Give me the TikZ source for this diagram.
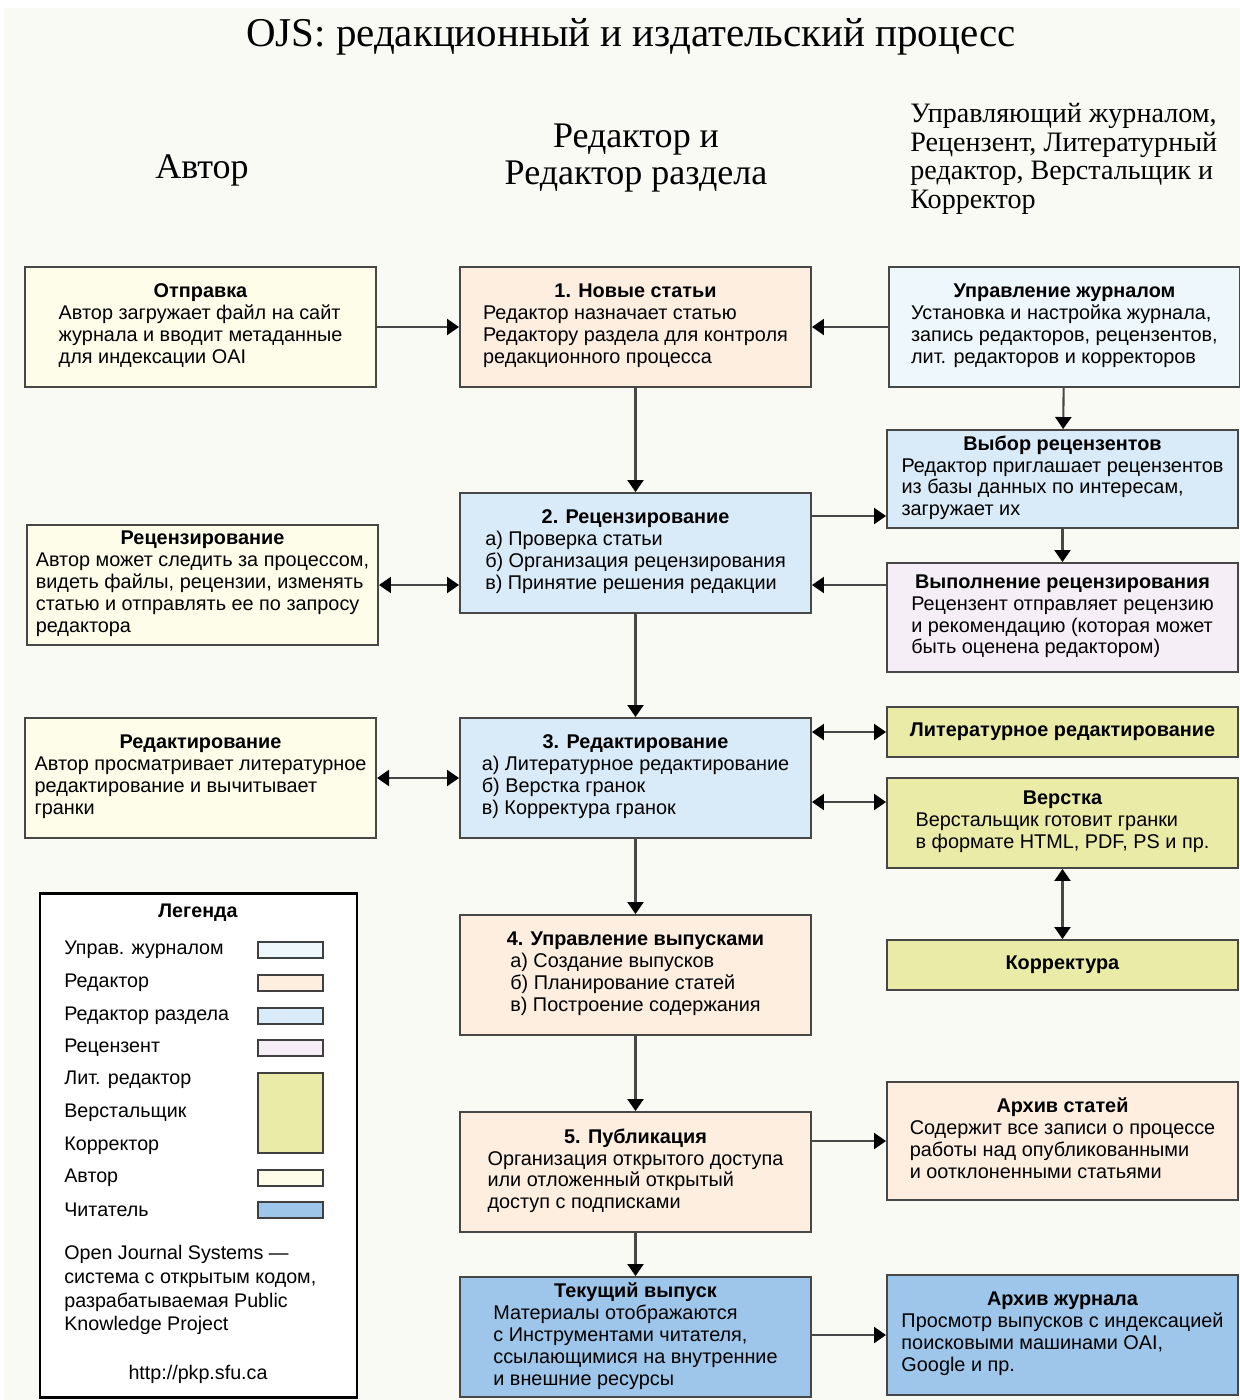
\documentclass[tikz,border=0pt]{standalone}
\usepackage{fontspec}
\setmainfont{Liberation Serif}
\setsansfont{Liberation Sans}
\usepackage{tikz}
\usetikzlibrary{arrows.meta,positioning}
\definecolor{fon}{HTML}{F9FAF4}
\definecolor{avtorc}{HTML}{FDFDEA}
\definecolor{redc}{HTML}{FDEEDF}
\definecolor{upravc}{HTML}{EEF7FC}
\definecolor{sekc}{HTML}{D9EBF8}
\definecolor{recc}{HTML}{F6EEF7}
\definecolor{litc}{HTML}{EBEBA8}
\definecolor{chitc}{HTML}{9DC6EA}
\newcommand{\kartochka}[2]{\textbf{#1}\\\begin{tabular}[t]{@{}l@{}}#2\end{tabular}}
\tikzset{
  blok/.style={draw=black!72,line width=1.1pt,inner sep=2pt,align=center,
               font=\sffamily\fontsize{11.3}{12.5}\selectfont,
               minimum width=70.2mm,minimum height=24mm},
  avtorblok/.style={blok,fill=avtorc},
  redblok/.style={blok,fill=redc},
  upravblok/.style={blok,fill=upravc},
  sekblok/.style={blok,fill=sekc},
  recblok/.style={blok,fill=recc},
  litblok/.style={blok,fill=litc},
  chitblok/.style={blok,fill=chitc},
  strelka/.style={draw=black!72,line width=1.2pt,-{Triangle[length=2.4mm,width=3.2mm,black]}},
  dvustrelka/.style={draw=black!72,line width=1.2pt,
                     {Triangle[length=2.4mm,width=3.2mm,black]}-{Triangle[length=2.4mm,width=3.2mm,black]}},
  zag/.style={font=\fontsize{23.3}{28}\selectfont},
  kol/.style={font=\fontsize{20.5}{21}\selectfont,align=center},
  legtekst/.style={font=\sffamily\fontsize{11.2}{13.6}\selectfont,anchor=west,inner sep=0pt},
  obrazec/.style={draw=black!75,line width=0.8pt,minimum width=13mm,minimum height=3.2mm,inner sep=0pt},
}

\begin{document}
\begin{tikzpicture}[x=0.2mm,y=-0.2mm]
  \useasboundingbox (0,0) rectangle (1240,1400);
  \fill[fon] (4,8) rectangle (1240,1400);

  % zagolovki
  \node[zag] (t) at (631,37) {OJS: редакционный и издательский процесс};
  \node[kol] (h1) at (202,170) {Автор};
  \node[kol] (h2) at (636,158) {Редактор и\\Редактор раздела};
  \node[kol,font=\fontsize{16}{16.2}\selectfont,align=left,anchor=west,inner sep=0pt] (h3) at (910,159)
     {Управляющий журналом,\\Рецензент, Литературный\\редактор, Верстальщик и\\Корректор};

  % centralnaja kolonka
  \node[redblok] (e1) at (635.5,327) {\kartochka{1. Новые статьи}{Редактор назначает статью\\Редактору раздела для контроля\\редакционного процесса}};
  \node[sekblok] (e2) at (635.5,553) {\kartochka{2. Рецензирование}{а) Проверка статьи\\б) Организация рецензирования\\в) Принятие решения редакции}};
  \node[sekblok] (e3) at (635.5,778) {\kartochka{3. Редактирование}{а) Литературное редактирование\\б) Верстка гранок\\в) Корректура гранок}};
  \node[redblok] (e4) at (635.5,975) {\kartochka{4. Управление выпусками}{а) Создание выпусков\\б) Планирование статей\\в) Построение содержания}};
  \node[redblok] (e5) at (635.5,1172) {\kartochka{5. Публикация}{Организация открытого доступа\\или отложенный открытый\\доступ с подписками}};
  \node[chitblok] (e6) at (635.5,1337) {\kartochka{Текущий выпуск}{Материалы отображаются\\с Инструментами читателя,\\ссылающимися на внутренние\\и внешние ресурсы}};

  % avtor
  \node[avtorblok,left=16.4mm of e1] (a1) {\kartochka{Отправка}{Автор загружает файл на сайт\\журнала и вводит метаданные\\для индексации OAI}};
  \node[avtorblok] (a2) at (202.5,585) {\kartochka{Рецензирование}{Автор может следить за процессом,\\видеть файлы, рецензии, изменять\\статью и отправлять ее по запросу\\редактора}};
  \node[avtorblok,left=16.4mm of e3] (a3) {\kartochka{Редактирование}{Автор просматривает литературное\\редактирование и вычитывает\\гранки}};

  % pravaja kolonka
  \node[upravblok,right=15.2mm of e1] (p1) {\kartochka{Управление журналом}{Установка и настройка журнала,\\запись редакторов, рецензентов,\\лит. редакторов и корректоров}};
  \node[sekblok,minimum height=19.6mm] (p2) at (1062.5,479) {\kartochka{Выбор рецензентов}{Редактор приглашает рецензентов\\из базы данных по интересам,\\загружает их}};
  \node[recblok,minimum height=21.8mm] (p3) at (1062.5,617.5) {\kartochka{Выполнение рецензирования}{Рецензент отправляет рецензию\\и рекомендацию (которая может\\быть оценена редактором)}};
  \node[litblok,minimum height=10mm] (p4) at (1062.5,732) {\textbf{Литературное редактирование}};
  \node[litblok,minimum height=18mm] (p5) at (1062.5,823) {\kartochka{Верстка}{Верстальщик готовит гранки\\в формате HTML, PDF, PS и пр.}};
  \node[litblok,minimum height=10mm] (p6) at (1062.5,965) {\textbf{Корректура}};
  \node[redblok,minimum height=23.6mm] (p7) at (1062.5,1141) {\kartochka{Архив статей}{Содержит все записи о процессе\\работы над опубликованными\\и оотклоненными статьями}};
  \node[chitblok] (p8) at (1062.5,1335) {\kartochka{Архив журнала}{Просмотр выпусков с индексацией\\поисковыми машинами OAI,\\Google и пр.}};

  % strelki
  \draw[strelka] (a1) -- (e1);
  \draw[strelka] (p1) -- (e1);
  \draw[strelka] (e1) -- (e2);
  \draw[strelka] (p1) -- (p2);
  \coordinate (k1) at ([yshift=7.4mm]e2.east);
  \draw[strelka] (k1) -- (k1 -| p2.west);
  \draw[strelka] (p2) -- (p3);
  \coordinate (k2) at (e2.east |- a2.east);
  \draw[strelka] (k2 -| p3.west) -- (k2);
  \draw[dvustrelka] (a2.east) -- (k2 -| e2.west);
  \draw[strelka] (e2) -- (e3);
  \draw[dvustrelka] (a3) -- (e3);
  \draw[dvustrelka] (e3.east |- p4.west) -- (p4.west);
  \coordinate (k3) at ([yshift=-4.8mm]e3.east);
  \draw[dvustrelka] (k3) -- (k3 -| p5.west);
  \draw[dvustrelka] (p5) -- (p6);
  \draw[strelka] (e3) -- (e4);
  \draw[strelka] (e4) -- (e5);
  \draw[strelka] (e5.east |- p7.west) -- (p7.west);
  \draw[strelka] (e5) -- (e6);
  \draw[strelka] (e6.east |- p8.west) -- (p8.west);

  % legenda
  \node[draw=black,line width=1.7pt,fill=white,minimum width=63.4mm,minimum height=100.8mm] (leg) at (198.5,1145) {};
  \node[font=\sffamily\bfseries\fontsize{11.2}{12.5}\selectfont] (lt) at (198,913) {Легенда};
  \node[legtekst] (l1) at (64,950) {Управ. журналом};
  \node[legtekst] (l2) at (64,983) {Редактор};
  \node[legtekst] (l3) at (64,1016) {Редактор раздела};
  \node[legtekst] (l4) at (64,1048) {Рецензент};
  \node[legtekst] (l5) at (64,1080) {Лит. редактор};
  \node[legtekst] (l6) at (64,1113) {Верстальщик};
  \node[legtekst] (l7) at (64,1146) {Корректор};
  \node[legtekst] (l8) at (64,1178) {Автор};
  \node[legtekst] (l9) at (64,1210) {Читатель};
  \node[obrazec,fill=upravc] (s1) at (290.5,950) {};
  \node[obrazec,fill=redc] (s2) at (290.5,983) {};
  \node[obrazec,fill=sekc] (s3) at (290.5,1016) {};
  \node[obrazec,fill=recc] (s4) at (290.5,1048) {};
  \node[obrazec,fill=litc,minimum height=16mm] (s5) at (290.5,1113) {};
  \node[obrazec,fill=avtorc] (s6) at (290.5,1178) {};
  \node[obrazec,fill=chitc] (s7) at (290.5,1210) {};
  \node[legtekst,align=left] (f1) at (64,1290) {Open Journal Systems —\\система с открытым кодом,\\разрабатываемая Public\\Knowledge Project};
  \node[legtekst,anchor=center] (url) at (198,1374) {http://pkp.sfu.ca};
\end{tikzpicture}
\end{document}
